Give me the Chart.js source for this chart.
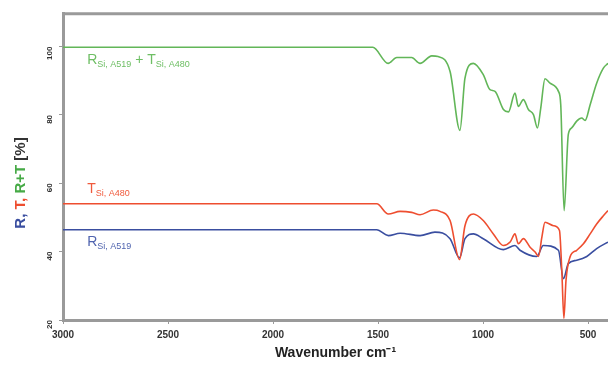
<!DOCTYPE html>
<html>
<head>
<meta charset="utf-8">
<script src="https://cdn.jsdelivr.net/npm/chart.js@4/dist/chart.umd.min.js"></script>
<style>
  body { margin: 0; background: #fff; }
  #wrap { width: 608px; height: 366px; position: relative; }
</style>
</head>
<body>
<div id="wrap"><canvas id="spec"></canvas></div>
<script>
// wavenumbers (cm-1) and values (%)
const wnRT  = [3000, 2500, 2000, 1600, 1525, 1452, 1411, 1340, 1300, 1244, 1214, 1157, 1110, 1086, 1046, 999, 967, 943, 903, 879, 848, 832, 808, 784, 760, 741, 725, 705, 681, 641, 630, 614, 594, 578, 554, 530, 514, 490, 459, 427, 405];
const valRT = [99.8, 99.8, 99.8, 99.8, 99.8, 95.1, 96.8, 96.8, 95.1, 97.3, 97.1, 92.7, 75.5, 90.8, 95.1, 91.8, 87.4, 86.9, 81.6, 80.9, 86.4, 82.5, 84.5, 81.6, 80.1, 76.2, 82.1, 90.6, 89.3, 86.9, 83.0, 52.0, 74.3, 76.2, 78.2, 79.1, 78.4, 83.0, 89.3, 93.7, 95.1];

const wnT  = [3000, 2500, 2000, 1580, 1506, 1451, 1395, 1340, 1300, 1237, 1205, 1157, 1112, 1086, 1046, 999, 951, 903, 871, 848, 832, 808, 776, 752, 736, 720, 705, 665, 636, 625, 615, 605, 586, 554, 522, 490, 459, 427, 405];
const valT = [54.0, 54.0, 54.0, 54.0, 54.0, 51.0, 51.8, 51.5, 50.8, 52.2, 51.8, 49.1, 37.7, 47.6, 51.0, 49.1, 45.2, 41.8, 42.8, 45.2, 42.3, 43.8, 41.3, 39.9, 38.6, 44.2, 48.6, 47.6, 46.2, 34.5, 20.5, 31.6, 38.4, 40.4, 42.3, 45.2, 48.1, 50.5, 52.0];

const wnR  = [3000, 2500, 2000, 1580, 1506, 1451, 1395, 1300, 1229, 1157, 1112, 1086, 1046, 999, 903, 848, 824, 744, 713, 641, 617, 594, 554, 506, 459, 405];
const valR = [46.4, 46.4, 46.4, 46.4, 46.4, 44.7, 45.4, 44.7, 45.7, 43.8, 38.2, 43.8, 45.2, 43.8, 40.6, 41.8, 40.4, 38.6, 41.8, 40.4, 32.1, 36.5, 37.5, 38.6, 40.9, 42.8];

const xTicks = [3000, 2500, 2000, 1500, 1000, 500];
const yTicks = [20, 40, 60, 80, 100];

const GREEN = 'rgb(98,182,88)';
const RED = 'rgb(238,78,48)';
const BLUE = 'rgb(58,78,160)';
const AXIS = '#9a9a9a';
const FONT = '"Liberation Sans", Arial, sans-serif';

function pts(xs, ys) {
  return xs.map((x, i) => ({ x: x, y: ys[i] }));
}

// labels with subscripts next to each curve
const curveLabels = {
  id: 'curveLabels',
  afterDatasetsDraw(chart) {
    const c = chart.ctx;
    const xs = chart.scales.x, ys = chart.scales.y;
    function part(txt, x, y, size, col) {
      c.font = size + 'px ' + FONT;
      c.fillStyle = col;
      c.fillText(txt, x, y);
      return x + c.measureText(txt).width;
    }
    function label(items, wn, v, col) {
      let x = xs.getPixelForValue(wn);
      const y = ys.getPixelForValue(v);
      c.save();
      c.textBaseline = 'alphabetic';
      items.forEach(it => {
        x = part(it[0], x, it[1] ? y + 3 : y, it[1] ? 9 : 14, col);
      });
      c.restore();
    }
    label([['R', 0], ['Si, A519', 1], [' + T', 0], ['Si, A480', 1]], 2885, 95.0, 'rgb(110,190,100)');
    label([['T', 0], ['Si, A480', 1]], 2885, 57.3, 'rgb(240,90,60)');
    label([['R', 0], ['Si, A519', 1]], 2885, 41.8, 'rgb(80,100,175)');
  }
};

// top frame line and the coloured y title
const frame = {
  id: 'frame',
  afterDraw(chart) {
    const c = chart.ctx, a = chart.chartArea;
    c.save();
    c.strokeStyle = AXIS;
    c.lineWidth = 3;
    c.beginPath();
    c.moveTo(a.left - 1, a.top);
    c.lineTo(a.right + 2, a.top);
    c.stroke();

    const parts = [['R, ', BLUE], ['T, ', RED], ['R+T ', 'rgb(70,170,70)'], ['[%]', '#333']];
    c.font = 'bold 15px ' + FONT;
    let total = 0;
    parts.forEach(p => total += c.measureText(p[0]).width);
    c.translate(21, 183);
    c.rotate(-Math.PI / 2);
    c.textBaseline = 'middle';
    let x = -total / 2;
    parts.forEach(p => {
      c.fillStyle = p[1];
      c.fillText(p[0], x, 0);
      x += c.measureText(p[0]).width;
    });
    c.restore();
  }
};

const ctx = document.getElementById('spec').getContext('2d');
const spec = new Chart(ctx, {
  type: 'line',
  data: {
    datasets: [
      { label: 'R+T', data: pts(wnRT, valRT), borderColor: GREEN },
      { label: 'T', data: pts(wnT, valT), borderColor: RED },
      { label: 'R', data: pts(wnR, valR), borderColor: BLUE }
    ]
  },
  options: {
    responsive: true,
    maintainAspectRatio: false,
    animation: false,
    layout: { padding: { top: 12, right: 0, left: 0, bottom: 0 } },
    elements: {
      point: { radius: 0 },
      line: { borderWidth: 1.6, cubicInterpolationMode: 'monotone' }
    },
    plugins: { legend: { display: false }, tooltip: { enabled: false } },
    scales: {
      x: {
        type: 'linear',
        reverse: true,
        min: 405,
        max: 3000,
        afterBuildTicks: s => { s.ticks = xTicks.map(v => ({ value: v })); },
        afterFit: s => { s.height = 46; },
        grid: { display: true, drawOnChartArea: false, color: AXIS, tickLength: 4, lineWidth: 1 },
        border: { color: AXIS, width: 3 },
        ticks: {
          color: '#333',
          font: { family: FONT, size: 10, weight: 'bold' },
          maxRotation: 0,
          padding: 5,
          callback: v => String(v)
        },
        title: {
          display: true,
          text: 'Wavenumber cm\u207B\u00B9',
          color: '#222',
          font: { family: FONT, size: 14, weight: 'bold' },
          padding: { top: 3 }
        }
      },
      y: {
        min: 20,
        max: 109.6,
        afterBuildTicks: s => { s.ticks = yTicks.map(v => ({ value: v })); },
        afterFit: s => { s.width = 63; },
        grid: { display: true, drawOnChartArea: false, color: AXIS, tickLength: 4, lineWidth: 1 },
        border: { color: AXIS, width: 3 },
        ticks: {
          color: '#333',
          font: { family: FONT, size: 8, weight: 'bold' },
          minRotation: 90,
          maxRotation: 90,
          padding: 9,
          callback: v => String(v)
        }
      }
    }
  },
  plugins: [curveLabels, frame]
});
</script>
</body>
</html>
